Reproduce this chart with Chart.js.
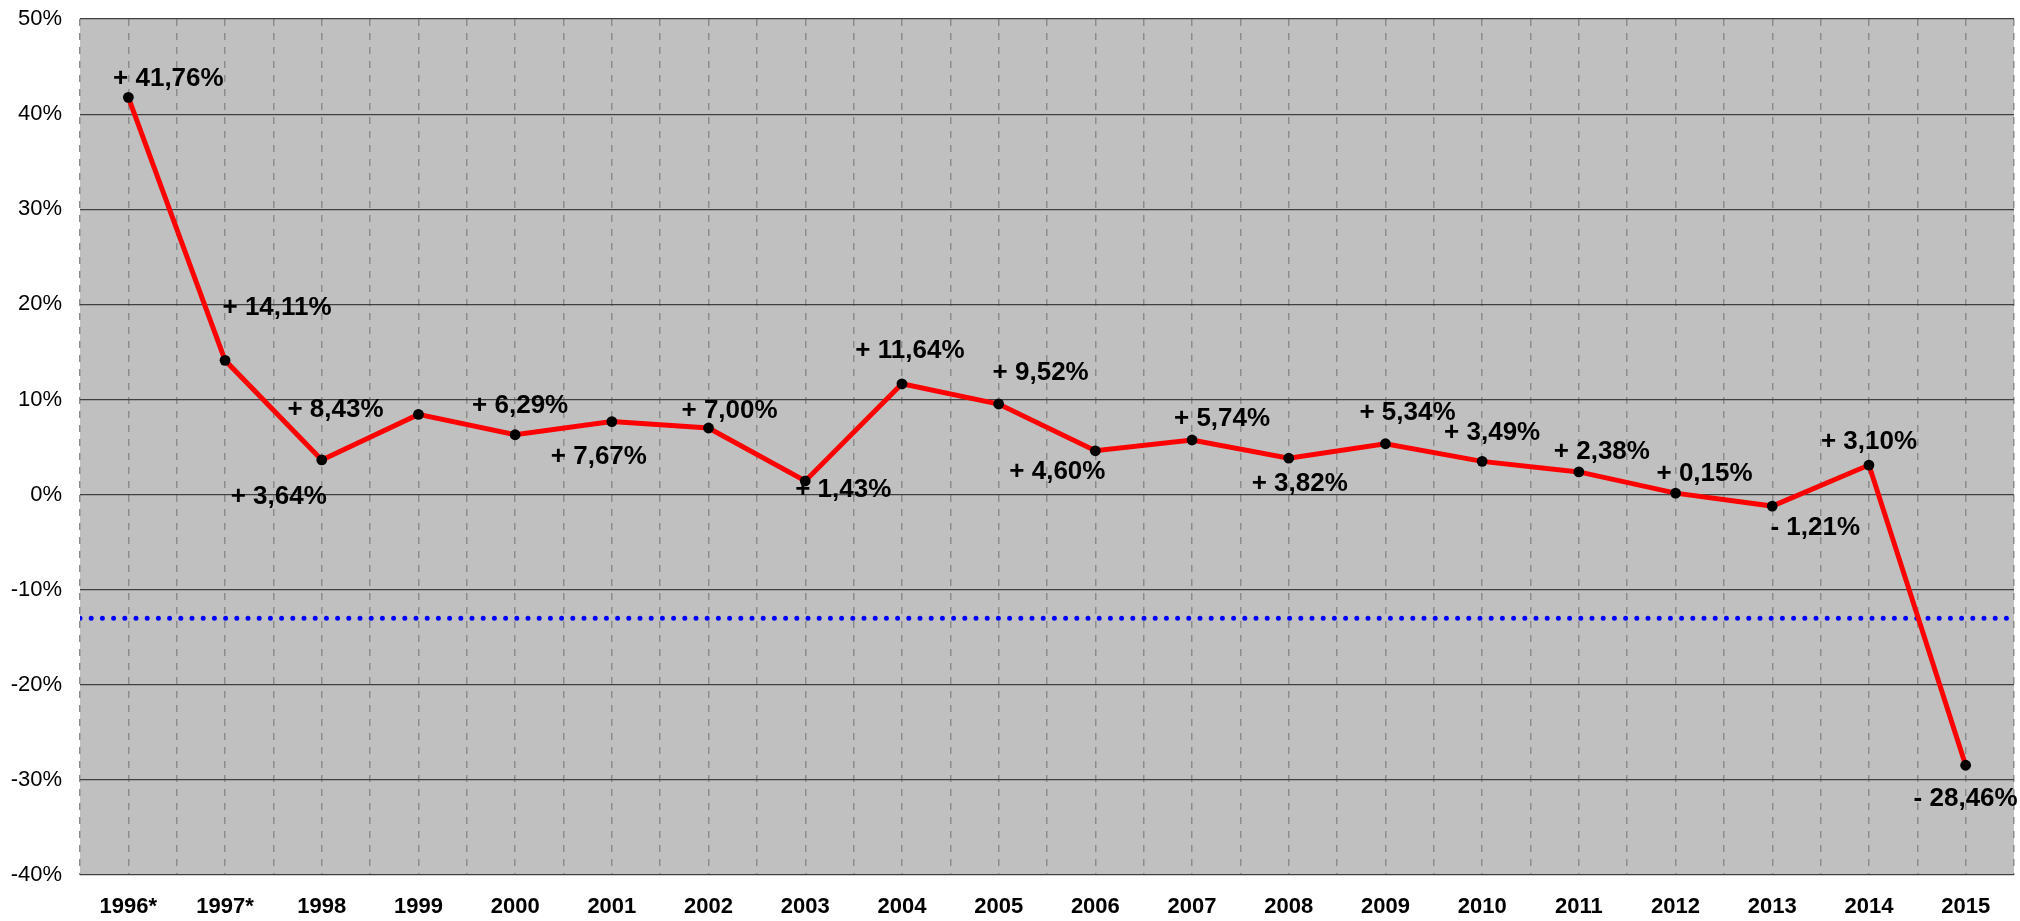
<!DOCTYPE html>
<html>
<head>
<meta charset="utf-8">
<script src="https://cdn.jsdelivr.net/npm/chart.js@4/dist/chart.umd.min.js"></script>
<style>
  html, body { margin: 0; padding: 0; background: #fff; }
  #wrap { width: 2020px; height: 921px; }
</style>
</head>
<body>
<div id="wrap"><canvas id="chart"></canvas></div>
<script>
// data
const years = ['1996*', '1997*', '1998', '1999', '2000', '2001', '2002', '2003', '2004', '2005',
               '2006', '2007', '2008', '2009', '2010', '2011', '2012', '2013', '2014', '2015'];
const changes = [41.76, 14.11, 3.64, 8.43, 6.29, 7.67, 7.00, 1.43, 11.64, 9.52,
                 4.60, 5.74, 3.82, 5.34, 3.49, 2.38, 0.15, -1.21, 3.10, -28.46];
const referenceLevel = -13;
const yTicks = [-40, -30, -20, -10, 0, 10, 20, 30, 40, 50];

// where each value label sits relative to its point (px)
const labelDx = [40, 52, -43, -83, 5, -13, 21, 38, 8, 42, -38, 30, 11, 22, 10, 23, 29, 43, 0, 0];
const labelDy = [-19, -53, 37, -5, -29, 35, -17, 9, -33, -31, 21, -21, 26, -31, -29, -20, -19, 22, -23, 34];

const fontFamily = '"Liberation Sans", Arial, sans-serif';

function formatChange(v) {
    return (v < 0 ? '- ' : '+ ') + Math.abs(v).toFixed(2).replace('.', ',') + '%';
}

const valueLabels = {
    id: 'valueLabels',
    afterDatasetsDraw(chart) {
        const meta = chart.getDatasetMeta(1);
        const ctx = chart.ctx;
        ctx.save();
        ctx.font = 'bold 26px ' + fontFamily;
        ctx.fillStyle = '#000';
        ctx.textAlign = 'center';
        ctx.textBaseline = 'middle';
        meta.data.forEach((pt, i) => {
            ctx.fillText(formatChange(changes[i]), pt.x + labelDx[i], pt.y + labelDy[i]);
        });
        ctx.restore();
    }
};

const plotBackground = {
    id: 'plotBackground',
    beforeDraw(chart) {
        const a = chart.chartArea;
        chart.ctx.save();
        chart.ctx.fillStyle = '#C0C0C0';
        chart.ctx.fillRect(a.left, a.top, a.right - a.left, a.bottom - a.top);
        chart.ctx.restore();
    }
};

new Chart(document.getElementById('chart'), {
    type: 'line',
    data: {
        datasets: [
            {
                data: [{ x: -0.5, y: referenceLevel }, { x: years.length - 0.5, y: referenceLevel }],
                borderColor: '#0000FF',
                borderWidth: 5,
                borderDash: [0, 11.2],
                borderCapStyle: 'round',
                pointRadius: 0,
                order: 2
            },
            {
                data: changes.map((v, i) => ({ x: i, y: v })),
                borderColor: '#FF0000',
                borderWidth: 5,
                tension: 0,
                pointRadius: 5.4,
                pointBorderWidth: 0,
                pointBackgroundColor: '#000',
                order: 1
            }
        ]
    },
    options: {
        responsive: true,
        maintainAspectRatio: false,
        animation: false,
        layout: { padding: { left: 0, right: 6, top: 19, bottom: 0 } },
        plugins: {
            legend: { display: false },
            tooltip: { enabled: false }
        },
        scales: {
            x: {
                type: 'linear',
                min: -0.5,
                max: years.length - 0.5,
                afterFit: scale => {
                    scale.height = 46;
                    scale.paddingLeft = 0;
                    scale.paddingRight = 0;
                },
                border: { display: false, dash: [7, 7] },
                grid: {
                    color: '#8c8c8c',
                    lineWidth: 1.5,
                    drawTicks: false
                },
                ticks: {
                    stepSize: 0.5,
                    autoSkip: false,
                    maxRotation: 0,
                    padding: 19,
                    color: '#000',
                    font: { family: fontFamily, size: 22, weight: 'bold' },
                    callback: v => Number.isInteger(v) ? years[v] : ''
                }
            },
            y: {
                min: yTicks[0],
                max: yTicks[yTicks.length - 1],
                afterFit: scale => {
                    scale.width = 80;
                    scale.paddingTop = 0;
                    scale.paddingBottom = 0;
                },
                border: { display: false },
                grid: { color: '#404040', lineWidth: 1.2, drawTicks: false },
                ticks: {
                    stepSize: 10,
                    padding: 18,
                    color: '#000',
                    font: { family: fontFamily, size: 22 },
                    callback: v => v + '%'
                }
            }
        }
    },
    plugins: [plotBackground, valueLabels]
});
</script>
</body>
</html>
